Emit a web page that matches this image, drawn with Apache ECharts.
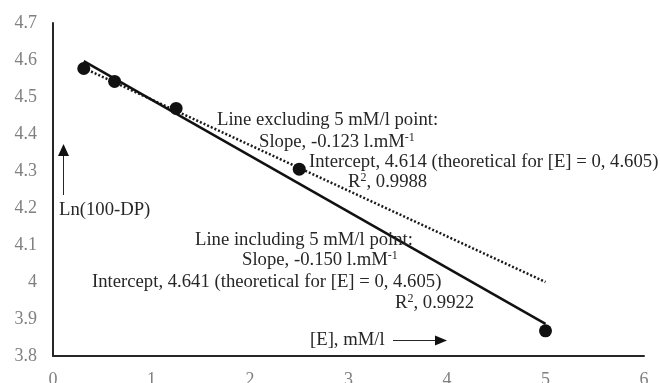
<!DOCTYPE html>
<html>
<head>
<meta charset="utf-8">
<script src="https://cdn.jsdelivr.net/npm/echarts@6/dist/echarts.min.js"></script>
<style>html,body{margin:0;padding:0;background:#fff}#c{width:660px;height:383px}</style>
</head>
<body>
<div id="c"></div>
<script>
// Data
const concentrations = [0.3125, 0.625, 1.25, 2.5, 5];
const lnValues = [4.577, 4.542, 4.469, 4.305, 3.868];
// Trend line endpoints (as drawn in the picture)
const lineIncludingX = [0.3125, 5];
const lineIncludingY = [4.597, 3.887];
const lineExcludingX = [0.3125, 5];
const lineExcludingY = [4.578, 4.0];
const xTicks = [0, 1, 2, 3, 4, 5, 6];
const yTicks = [3.8, 3.9, 4, 4.1, 4.2, 4.3, 4.4, 4.5, 4.6, 4.7];

const FONT = '"Liberation Serif", "Times New Roman", serif';
const TXT = '#262626';
const FS = 18.7;

const chart = echarts.init(document.getElementById('c'), null, {renderer: 'canvas'});

function txt(x, y, rich) {
  return {
    type: 'text', left: x, top: y - 10, z: 100,
    style: {
      text: rich, fill: TXT, font: FS + 'px ' + FONT, lineHeight: 20,
      rich: {
        n: {fontSize: FS, fontFamily: FONT, lineHeight: 20, fill: TXT, verticalAlign: 'middle'},
        sup: {fontSize: 12, fontFamily: FONT, lineHeight: 20, fill: TXT, verticalAlign: 'top'}
      }
    }
  };
}

const option = {
  backgroundColor: '#ffffff',
  animation: false,
  grid: {left: 53, right: 16, top: 23, bottom: 27, containLabel: false, outerBoundsMode: 'none'},
  xAxis: {
    type: 'value', min: 0, max: 6, interval: 1,
    axisLine: {show: true, onZero: false, lineStyle: {color: '#262626', width: 2}},
    axisTick: {show: false},
    splitLine: {show: false},
    axisLabel: {color: '#808080', fontFamily: FONT, fontSize: 18, margin: 15,
      formatter: v => xTicks.includes(v) ? String(v) : ''}
  },
  yAxis: {
    type: 'value', min: 3.8, max: 4.7, interval: 0.1,
    axisLine: {show: true, onZero: false, lineStyle: {color: '#262626', width: 2}},
    axisTick: {show: false},
    splitLine: {show: false},
    axisLabel: {color: '#808080', fontFamily: FONT, fontSize: 18, margin: 16,
      formatter: v => {
        const r = Math.round(v * 10) / 10;
        return yTicks.includes(r) ? String(r) : '';
      }}
  },
  series: [
    {
      type: 'line', name: 'excluding',
      data: lineExcludingX.map((x, i) => [x, lineExcludingY[i]]),
      showSymbol: false, symbol: 'none',
      lineStyle: {color: '#1a1a1a', width: 2.5, type: [2, 2], cap: 'butt'},
      z: 2
    },
    {
      type: 'line', name: 'including',
      data: lineIncludingX.map((x, i) => [x, lineIncludingY[i]]),
      showSymbol: false, symbol: 'none',
      lineStyle: {color: '#111111', width: 2.5},
      z: 3
    },
    {
      type: 'scatter', name: 'data',
      data: concentrations.map((x, i) => [x, lnValues[i]]),
      symbol: 'circle', symbolSize: 13,
      itemStyle: {color: '#111111', opacity: 1},
      emphasis: {disabled: true},
      z: 5
    }
  ],
  graphic: [
    txt(217, 120, '{n|Line excluding 5 mM/l point:}'),
    txt(259, 142, '{n|Slope, -0.123 l.mM}{sup|-1}'),
    txt(309, 162, '{n|Intercept, 4.614 (theoretical for [E] = 0, 4.605)}'),
    txt(348, 182, '{n|R}{sup|2}{n|, 0.9988}'),
    txt(59, 210, '{n|Ln(100-DP)}'),
    txt(195, 240, '{n|Line including 5 mM/l point:}'),
    txt(242, 260, '{n|Slope, -0.150 l.mM}{sup|-1}'),
    txt(92, 282, '{n|Intercept, 4.641 (theoretical for [E] = 0, 4.605)}'),
    txt(395, 303, '{n|R}{sup|2}{n|, 0.9922}'),
    txt(310, 340, '{n|[E], mM/l}'),
    // vertical arrow
    {type: 'line', z: 100, shape: {x1: 63.5, y1: 195, x2: 63.5, y2: 154}, style: {stroke: '#262626', lineWidth: 1}},
    {type: 'polygon', z: 100, shape: {points: [[63.5, 144], [58, 156], [69, 156]]}, style: {fill: '#111'}},
    // horizontal arrow
    {type: 'line', z: 100, shape: {x1: 393, y1: 340.5, x2: 437, y2: 340.5}, style: {stroke: '#262626', lineWidth: 1}},
    {type: 'polygon', z: 100, shape: {points: [[447, 340.5], [435, 335.5], [435, 345.5]]}, style: {fill: '#111'}}
  ]
};
chart.setOption(option);
</script>
</body>
</html>
